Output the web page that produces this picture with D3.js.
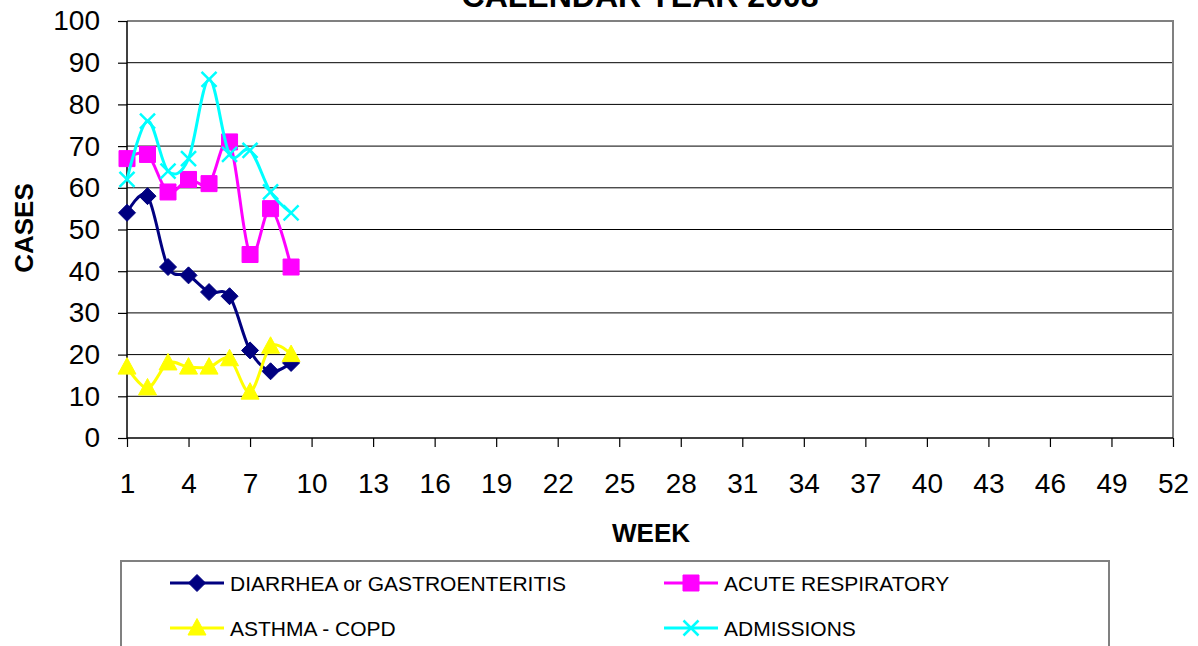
<!DOCTYPE html>
<html lang="en">
<head>
<meta charset="utf-8">
<title>Calendar Year 2008</title>
<script type="text/javascript" src="https://cdn.jsdelivr.net/npm/d3@7/dist/d3.min.js"></script>
<style>
body { margin: 0; background: #fff; }
svg { display: block; font-family: Arial, "Liberation Sans", sans-serif; }
</style>
</head>
<body>
<script type="text/javascript">
var w = 1198;
var h = 646;

// weeks with data so far
var weeks = [1, 2, 3, 4, 5, 6, 7, 8, 9];
var diarrhea = [54, 58, 41, 39, 35, 34, 21, 16, 18];
var acuteResp = [67, 68, 59, 62, 61, 71, 44, 55, 41];
var asthma = [17, 12, 18, 17, 17, 19, 11, 22, 20];
var admissions = [62, 76, 64, 67, 86, 68, 69, 59, 54];

var xTickLabels = d3.range(1, 53, 3);   // 1,4,...,52
var yTickLabels = d3.range(0, 101, 10);

var seriesNames = ["DIARRHEA or GASTROENTERITIS", "ACUTE RESPIRATORY", "ASTHMA - COPD", "ADMISSIONS"];
var seriesColors = ["#000080", "#ff00ff", "#ffff00", "#00ffff"];
var seriesMarkers = ["diamond", "square", "triangle", "cross"];
var seriesValues = [diarrhea, acuteResp, asthma, admissions];

var plot = {left: 127, right: 1173, top: 21, bottom: 438};

var xScale = d3.scaleLinear().domain([1, 52]).range([plot.left, plot.right]);
var yScale = d3.scaleLinear().domain([0, 100]).range([plot.bottom, plot.top]);

var svg = d3.select("body").append("svg")
  .attr("width", w)
  .attr("height", h);

// title (cut off at the top in the original)
svg.append("text")
  .attr("x", 640)
  .attr("y", 7)
  .attr("text-anchor", "middle")
  .attr("font-size", "32px")
  .attr("font-weight", "bold")
  .text("CALENDAR YEAR 2008");

// horizontal grid
svg.append("g")
  .selectAll("line")
  .data(yTickLabels.filter(function(d){ return d > 0 && d < 100; }))
  .enter()
  .append("line")
  .attr("x1", plot.left)
  .attr("x2", plot.right)
  .attr("y1", function(d){ return yScale(d); })
  .attr("y2", function(d){ return yScale(d); })
  .attr("stroke", "#000")
  .attr("stroke-width", 1);

// plot border top + right (grey)
svg.append("path")
  .attr("d", "M" + plot.left + "," + plot.top + "H" + plot.right + "V" + plot.bottom)
  .attr("fill", "none")
  .attr("stroke", "#808080")
  .attr("stroke-width", 2);

var yAxis = d3.axisLeft(yScale)
  .tickValues(yTickLabels)
  .tickSize(9)
  .tickPadding(18);

var xAxis = d3.axisBottom(xScale)
  .tickValues(xTickLabels)
  .tickSize(9)
  .tickPadding(26);

var gy = svg.append("g")
  .attr("transform", "translate(" + plot.left + ",0)")
  .call(yAxis);
var gx = svg.append("g")
  .attr("transform", "translate(0," + plot.bottom + ")")
  .call(xAxis);

[gx, gy].forEach(function(g){
  g.select(".domain").attr("stroke", "#000").attr("stroke-width", 1.5);
  g.selectAll(".tick line").attr("stroke", "#000").attr("stroke-width", 1.2);
  g.selectAll(".tick text")
    .attr("font-size", "28px")
    .attr("font-family", "Arial, 'Liberation Sans', sans-serif")
    .attr("fill", "#000");
});
gy.select(".domain").attr("d", "M0," + plot.top + "V" + plot.bottom);
gx.select(".domain").attr("d", "M" + plot.left + ",0H" + plot.right);

// axis titles
svg.append("text")
  .attr("x", 651)
  .attr("y", 542)
  .attr("text-anchor", "middle")
  .attr("font-size", "26px")
  .attr("font-weight", "bold")
  .text("WEEK");

svg.append("text")
  .attr("transform", "translate(33,228) rotate(-90)")
  .attr("text-anchor", "middle")
  .attr("font-size", "26px")
  .attr("font-weight", "bold")
  .text("CASES");

// marker shapes
function markerPath(type) {
  if (type === "diamond") return "M0,-8.5L8.5,0L0,8.5L-8.5,0Z";
  if (type === "square") return "M-8,-8H8V8H-8Z";
  if (type === "triangle") return "M0,-9.5L9,7H-9Z";
  return "M-7.5,-7.5L7.5,7.5M-7.5,7.5L7.5,-7.5";
}

function drawMarker(g, type, color) {
  var p = g.append("path").attr("d", markerPath(type));
  if (type === "cross") {
    p.attr("fill", "none").attr("stroke", color).attr("stroke-width", 2.5);
  } else {
    p.attr("fill", color).attr("stroke", color).attr("stroke-width", 1);
  }
}

var line = d3.line()
  .x(function(d){ return xScale(d.week); })
  .y(function(d){ return yScale(d.value); })
  .curve(d3.curveCatmullRom.alpha(0));

seriesValues.forEach(function(vals, i){
  var data = weeks.map(function(wk, j){ return {week: wk, value: vals[j]}; });
  var g = svg.append("g");
  g.append("path")
    .datum(data)
    .attr("d", line)
    .attr("fill", "none")
    .attr("stroke", seriesColors[i])
    .attr("stroke-width", 3);
  g.selectAll("g.pt")
    .data(data)
    .enter()
    .append("g")
    .attr("class", "pt")
    .attr("transform", function(d){ return "translate(" + xScale(d.week) + "," + yScale(d.value) + ")"; })
    .each(function(){ drawMarker(d3.select(this), seriesMarkers[i], seriesColors[i]); });
});

// legend
var legend = svg.append("g");
legend.append("rect")
  .attr("x", 121)
  .attr("y", 561)
  .attr("width", 988)
  .attr("height", 100)
  .attr("fill", "#fff")
  .attr("stroke", "#808080")
  .attr("stroke-width", 2);

var legendPos = [[170, 583], [664, 583], [170, 628], [664, 628]];
seriesNames.forEach(function(name, i){
  var g = legend.append("g")
    .attr("transform", "translate(" + legendPos[i][0] + "," + legendPos[i][1] + ")");
  g.append("line")
    .attr("x1", 0).attr("x2", 54)
    .attr("y1", 0).attr("y2", 0)
    .attr("stroke", seriesColors[i])
    .attr("stroke-width", 3);
  var m = g.append("g").attr("transform", "translate(27,0)");
  drawMarker(m, seriesMarkers[i], seriesColors[i]);
  g.append("text")
    .attr("x", 60)
    .attr("y", 7.5)
    .attr("font-size", "21px")
    .text(name);
});
</script>
</body>
</html>
